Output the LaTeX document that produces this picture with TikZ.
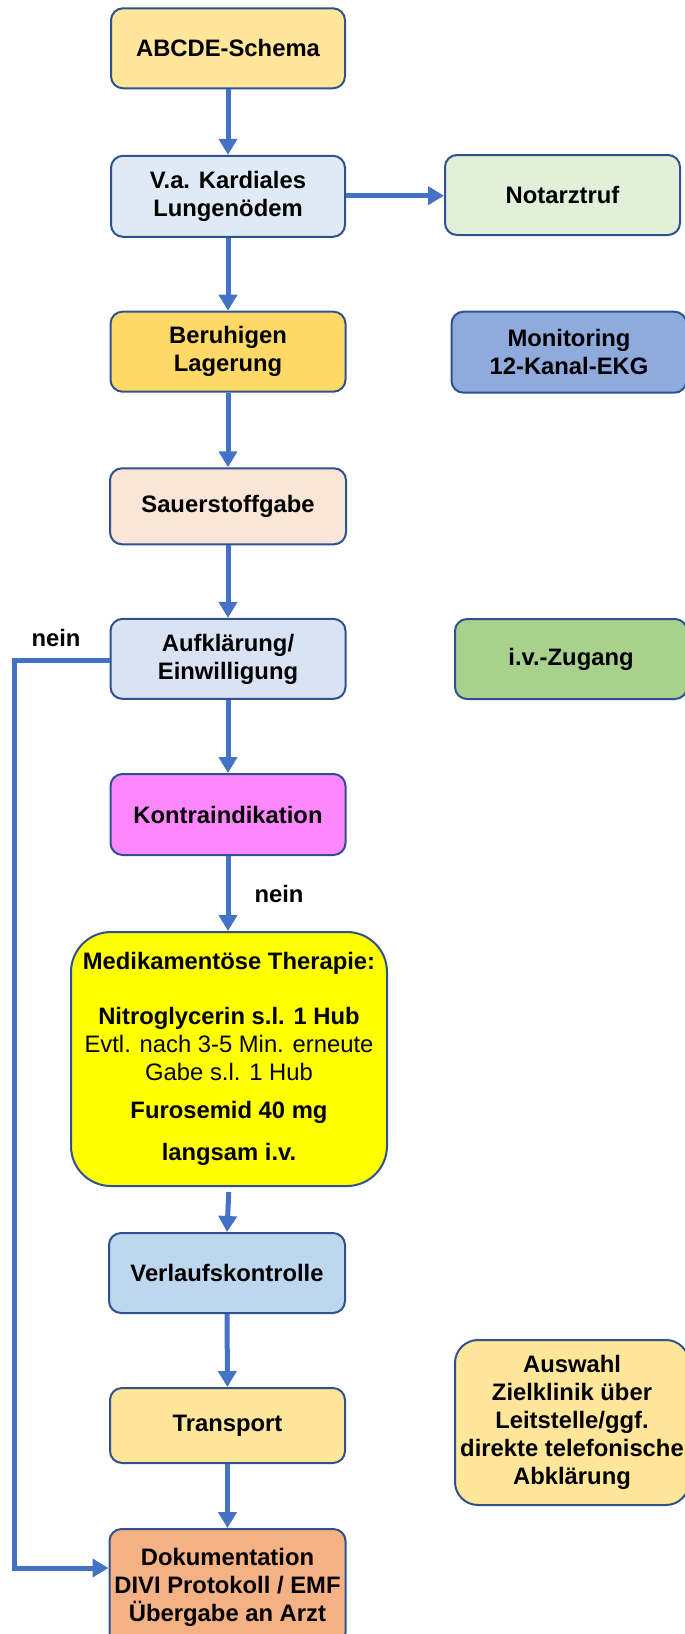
\documentclass[tikz,border=0pt]{standalone}
\usepackage{fontspec}
\setmainfont{Liberation Sans}
\usetikzlibrary{arrows.meta}
\definecolor{bordercol}{HTML}{2F528F}
\definecolor{arrowcol}{HTML}{4472C4}
\definecolor{cgold}{HTML}{FFE699}
\definecolor{cgolddark}{HTML}{FFD966}
\definecolor{clblue}{HTML}{DEEBF7}
\definecolor{clgreen}{HTML}{E2F0D9}
\definecolor{cmblue}{HTML}{8FAADC}
\definecolor{cpeach}{HTML}{FBE5D6}
\definecolor{cgrayblue}{HTML}{DAE3F3}
\definecolor{cgreen}{HTML}{A9D18E}
\definecolor{cpink}{HTML}{FF88FF}
\definecolor{cyellow}{HTML}{FFFF00}
\definecolor{cskyblue}{HTML}{BDD7EE}
\definecolor{corange}{HTML}{F4B183}
\begin{document}
\begin{tikzpicture}[x=1pt,y=-1pt,
  box/.style={draw=bordercol, line width=2pt, rounded corners=12pt,
    inner sep=0pt, align=center,
    font=\fontsize{23.8}{28}\selectfont\bfseries},
  arr/.style={draw=arrowcol, line width=5pt, -{Triangle[width=18pt,length=16pt]}},
  lbl/.style={font=\fontsize{23.8}{28}\selectfont\bfseries, inner sep=0pt, anchor=base}
]
\useasboundingbox (0,0) rectangle (685,1634);

\node[box, fill=cgold, minimum width=234pt, minimum height=80pt] (abcde) at (228,48.3) {ABCDE-Schema};
\node[box, fill=clblue, minimum width=234pt, minimum height=81pt] (vka) at (228,196.3) {V.a. Kardiales\\Lungenödem};
\node[box, fill=clgreen, minimum width=235pt, minimum height=80pt] (notarzt) at (562.5,195) {Notarztruf};
\node[box, fill=cgolddark, minimum width=235pt, minimum height=80pt] (beruh) at (228,351.7) {Beruhigen\\Lagerung};
\node[box, fill=cmblue, minimum width=235pt, minimum height=81pt] (monit) at (569,352.2) {Monitoring\\12-Kanal-EKG};
\node[box, fill=cpeach, minimum width=236pt, minimum height=76pt] (sauer) at (228,506.3) {Sauerstoffgabe};
\node[box, fill=cgrayblue, minimum width=235pt, minimum height=80pt] (aufkl) at (228,658.9) {Aufklärung/\\Einwilligung};
\node[box, fill=cgreen, minimum width=232pt, minimum height=80pt] (ivz) at (571,659) {i.v.-Zugang};
\node[box, fill=cpink, minimum width=235pt, minimum height=81pt] (kontra) at (228,814.5) {Kontraindikation};
\node[box, fill=cyellow, rounded corners=40pt, minimum width=316pt, minimum height=254pt] (medi) at (229,1059)
  {Medikamentöse Therapie:\\[27pt]
   Nitroglycerin s.l. 1 Hub\\
   {\mdseries Evtl. nach 3-5 Min. erneute}\\
   {\mdseries Gabe s.l. 1 Hub}\\[10pt]
   Furosemid 40 mg\\[14pt]
   langsam i.v.};
\node[box, fill=cskyblue, minimum width=236pt, minimum height=80pt] (verlauf) at (227,1273) {Verlaufskontrolle};
\node[box, fill=cgold, minimum width=235pt, minimum height=75pt] (transport) at (227.5,1425.5) {Transport};
\node[box, fill=cgold, rounded corners=23pt, minimum width=234pt, minimum height=165pt] (auswahl) at (572,1422.5)
  {Auswahl\\Zielklinik über\\Leitstelle/ggf.\\direkte telefonische\\Abklärung};
\node[box, fill=corange, minimum width=236pt, minimum height=116pt] (doku) at (227.5,1587)
  {Dokumentation\\DIVI Protokoll / EMF\\Übergabe an Arzt};

\node[lbl] (nein1) at (56,646.7) {nein};
\node[lbl] (nein2) at (279,902) {nein};

\draw[arr] (abcde) -- (vka);
\draw[arr] (vka.east |- 0,195.7) -- (notarzt.west |- 0,195.7);
\draw[arr] (vka) -- (beruh);
\draw[arr] (beruh) -- (sauer);
\draw[arr] (sauer) -- (aufkl);
\draw[arr] (aufkl) -- (kontra);
\draw[arr] (kontra) -- (kontra |- medi.north);
\draw[arr, shorten <=5pt] (medi.south) -- (verlauf.north);
\draw[arr] (verlauf) -- (transport);
\draw[arr] (transport) -- (doku);

\coordinate (bendtop) at (14.5,660.5);
\coordinate (bendbot) at (14.5,1568);
\draw[arr] (aufkl.west |- bendtop) -- (bendtop) -- (bendbot) -- (doku.west |- bendbot);
\end{tikzpicture}
\end{document}
